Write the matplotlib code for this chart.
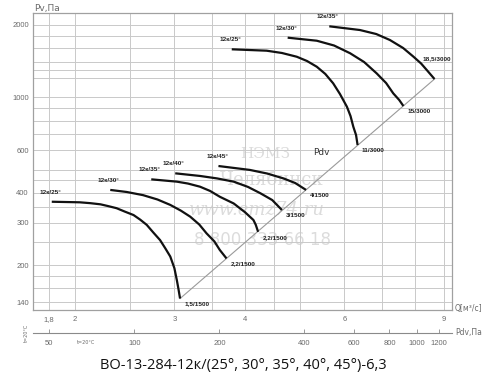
import numpy as np
import matplotlib
matplotlib.use("Agg")
import matplotlib.pyplot as plt
from matplotlib.ticker import FixedLocator, NullFormatter, FixedFormatter

# fan curves, Q [m3/s] vs Pv [Pa]
q_25_1500 = [1.82, 2.04, 2.13, 2.22, 2.29, 2.37, 2.45, 2.54, 2.61, 2.68, 2.75, 2.83, 2.89, 2.95, 3.0, 3.03, 3.05, 3.07]
pv_25_1500 = [367, 365, 362, 358, 352, 345, 334, 323, 309, 294, 274, 254, 235, 217, 194, 173, 159, 145]
q_30_1500 = [2.31, 2.47, 2.64, 2.80, 2.95, 3.08, 3.20, 3.32, 3.42, 3.53, 3.61, 3.71]
pv_30_1500 = [411, 403, 391, 375, 356, 337, 318, 295, 271, 251, 231, 213]
q_35_1500 = [2.73, 3.03, 3.17, 3.33, 3.47, 3.61, 3.82, 4.0, 4.14, 4.18, 4.22]
pv_35_1500 = [455, 445, 437, 424, 407, 385, 361, 332, 308, 294, 275]
q_40_1500 = [3.01, 3.33, 3.57, 3.82, 4.05, 4.26, 4.47, 4.65]
pv_40_1500 = [482, 470, 459, 445, 423, 398, 373, 339]
q_45_1500 = [3.59, 4.08, 4.38, 4.68, 4.91, 5.13]
pv_45_1500 = [517, 498, 481, 459, 439, 411]
q_25_3000 = [3.79, 4.37, 4.65, 4.94, 5.15, 5.36, 5.55, 5.73, 5.89, 6.06, 6.15, 6.22, 6.29, 6.33]
pv_25_3000 = [1584, 1563, 1529, 1475, 1416, 1340, 1250, 1143, 1032, 913, 835, 754, 696, 632]
q_30_3000 = [4.76, 5.36, 5.75, 6.14, 6.50, 6.84, 7.11, 7.32, 7.50, 7.63]
pv_30_3000 = [1771, 1720, 1643, 1525, 1402, 1258, 1146, 1038, 974, 919]
q_35_3000 = [5.64, 6.39, 6.83, 7.22, 7.62, 7.95, 8.20, 8.39, 8.66]
pv_35_3000 = [1975, 1906, 1834, 1732, 1604, 1475, 1382, 1299, 1191]

start_labels = ["12к/25°", "12к/30°", "12к/35°", "12к/40°", "12к/45°",
                "12к/25°", "12к/30°", "12к/35°"]
end_labels = ["1,5/1500", "2,2/1500", "2,2/1500", "3/1500", "4/1500",
              "11/3000", "15/3000", "18,5/3000"]

q_ticks = [1.8, 2, 3, 4, 6, 9]
q_tick_labels = ["1,8", "2", "3", "4", "6", "9"]
q_grid = [2.5, 3.5, 4.5, 5, 7, 8]
pv_ticks = [140, 200, 300, 400, 600, 1000, 2000]
pv_grid = [160, 180, 250, 350, 450, 500, 700, 800, 900, 1200, 1300, 1400, 1600, 1800]
pdv_ticks = [50, 100, 200, 400, 600, 800, 1000, 1200]
pdv_k = 15.4  # Pdv = k * Q^2

curves = [
    (q_25_1500, pv_25_1500), (q_30_1500, pv_30_1500), (q_35_1500, pv_35_1500),
    (q_40_1500, pv_40_1500), (q_45_1500, pv_45_1500),
    (q_25_3000, pv_25_3000), (q_30_3000, pv_30_3000), (q_35_3000, pv_35_3000),
]

W, H = 500, 376
fig = plt.figure(figsize=(5.0, 3.76), dpi=100)
grey = "#6a6a6a"


def fx(px):
    return px / W


def fy(py):
    return 1 - py / H


ax = fig.add_axes([fx(33), fy(310), fx(452) - fx(33), fy(13) - fy(310)])
ax.set_xscale("log")
ax.set_yscale("log")
ax.set_xlim(1.686, 9.30)
ax.set_ylim(129.9, 2244)

ax.xaxis.set_major_locator(FixedLocator(q_ticks))
ax.xaxis.set_major_formatter(FixedFormatter(q_tick_labels))
ax.xaxis.set_minor_locator(FixedLocator(q_grid))
ax.xaxis.set_minor_formatter(NullFormatter())
ax.yaxis.set_major_locator(FixedLocator(pv_ticks))
ax.yaxis.set_major_formatter(FixedFormatter([str(v) for v in pv_ticks]))
ax.yaxis.set_minor_locator(FixedLocator(pv_grid))
ax.yaxis.set_minor_formatter(NullFormatter())
ax.tick_params(which="both", length=0, labelsize=5.5, colors=grey, labelfontfamily="Liberation Sans")
ax.tick_params(axis="x", pad=4)
ax.tick_params(axis="y", pad=3)
ax.grid(True, which="both", color="#c9c9c9", linewidth=0.7)
for s in ax.spines.values():
    s.set_color("#a0a0a0")
    s.set_linewidth(0.9)

for (q, pv), lab_s, lab_e in zip(curves, start_labels, end_labels):
    ax.plot(q, pv, color="#111111", linewidth=1.6, solid_capstyle="butt",
            solid_joinstyle="round", zorder=3)
    ax.annotate(lab_s, (q[0], pv[0]), xytext=(-1, 5), textcoords="offset points",
                ha="center", va="bottom", fontsize=4.6, fontweight="bold",
                family="Liberation Sans", color="#222222")
    if lab_e.startswith("18"):
        off, ha = (2, 15), "center"
    else:
        off, ha = (3, -4), "left"
    ax.annotate(lab_e, (q[-1], pv[-1]), xytext=off, textcoords="offset points",
                ha=ha, va="center", fontsize=4.6, fontweight="bold",
                family="Liberation Sans", color="#222222")

# Pdv line through the curve end points
ends_q = [c[0][-1] for c in curves]
ends_pv = [c[1][-1] for c in curves]
i0, i1 = int(np.argmin(ends_q)), int(np.argmax(ends_q))
ax.plot([ends_q[i0], ends_q[i1]], [ends_pv[i0], ends_pv[i1]], color="#9a9a9a",
        linewidth=0.8, zorder=2)
ax.text(5.45, 590, "Pdv", fontsize=6.5, color="#333333", ha="center", va="center")

# watermark
wm = "#dcdcdc"
ax.text(4.35, 580, "НЭМЗ", fontsize=11, color=wm, family="DejaVu Serif", ha="center", va="center", zorder=1)
ax.text(4.45, 452, "Челябинск", fontsize=13, color=wm, family="DejaVu Serif", ha="center", va="center", zorder=1)
ax.text(4.2, 340, "www.emz74.ru", fontsize=13, color=wm, family="DejaVu Serif", style="italic",
        ha="center", va="center", zorder=1)
ax.text(4.3, 255, "8 800 333 66 18", fontsize=12, color=wm, ha="center", va="center", zorder=1)

# secondary Pdv scale
ax2 = fig.add_axes([fx(33), fy(333), fx(452) - fx(33), 0.0001])
ax2.set_xscale("log")
ax2.set_xlim(1.686, 9.30)
ax2.patch.set_visible(False)
for k in ("left", "right", "top"):
    ax2.spines[k].set_visible(False)
ax2.spines["bottom"].set_color("#8a8a8a")
ax2.spines["bottom"].set_linewidth(0.8)
ax2.set_yticks([])
ax2.xaxis.set_major_locator(FixedLocator([np.sqrt(p / pdv_k) for p in pdv_ticks]))
ax2.xaxis.set_major_formatter(FixedFormatter([str(p) for p in pdv_ticks]))
ax2.xaxis.set_minor_locator(FixedLocator([]))
ax2.tick_params(axis="x", direction="in", length=3, width=0.6, color="#8a8a8a",
                labelsize=5.5, labelcolor=grey, pad=5, labelfontfamily="Liberation Sans")

fig.text(fx(34), fy(8), "Pv,Па", fontsize=6.5, color=grey, ha="left", va="center")
fig.text(fx(455), fy(308), "Q[м³/с]", fontsize=5.5, color=grey, ha="left", va="center")
fig.text(fx(455), fy(333), "Pdv,Па", fontsize=5.5, color=grey, ha="left", va="center")
fig.text(fx(26), fy(333), "t=20°C", fontsize=3.5, color=grey, rotation=90, ha="center", va="center")
fig.text(fx(86), fy(343), "t=20°C", fontsize=3.5, color=grey, ha="center", va="center")

fig.text(fx(243), fy(366), "ВО-13-284-12к/(25°, 30°, 35°, 40°, 45°)-6,3", fontsize=10.5,
         family="Open Sans", color="#111111", ha="center", va="center")

fig.savefig("out.png", dpi=100)
